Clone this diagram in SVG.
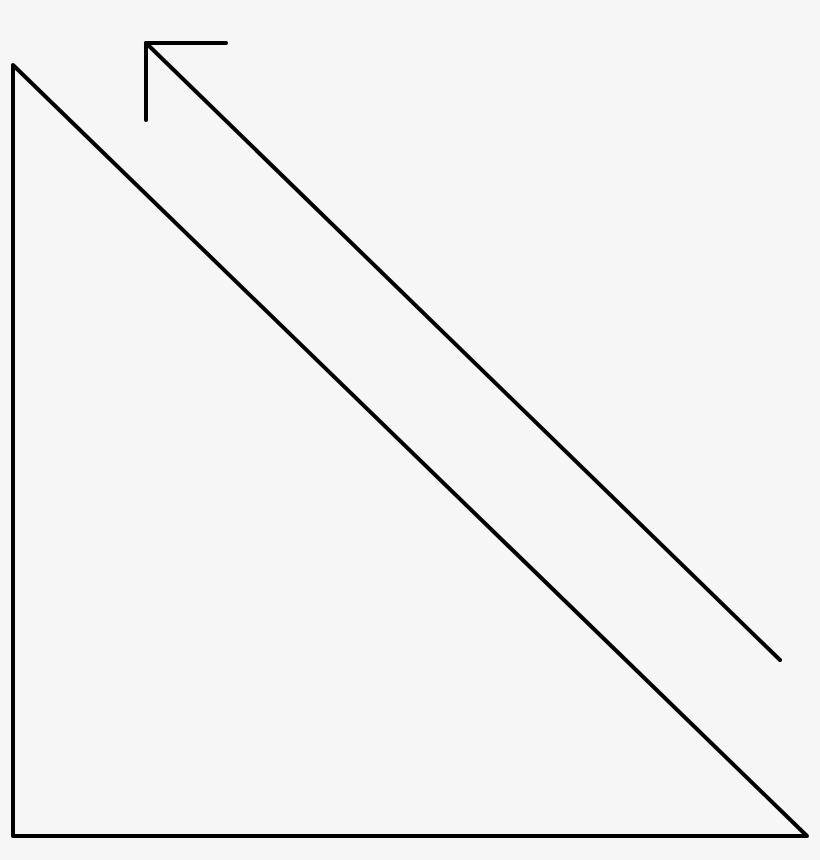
<svg xmlns="http://www.w3.org/2000/svg" width="820" height="860" viewBox="0 0 820 860">
<style>
.ln{fill:none;stroke:#000;stroke-width:4;stroke-linecap:round;stroke-linejoin:round}
</style>
<rect x="0" y="0" width="820" height="860" fill="#f6f6f6"/>
<g id="triangle">
<path class="ln" d="M13,65 L13,836 L807,836 Z"/>
</g>
<g id="connectors">
<path class="ln" d="M780,660 L146,43"/>
<path class="ln" d="M226,43 L146,43 L146,120"/>
</g>
</svg>
